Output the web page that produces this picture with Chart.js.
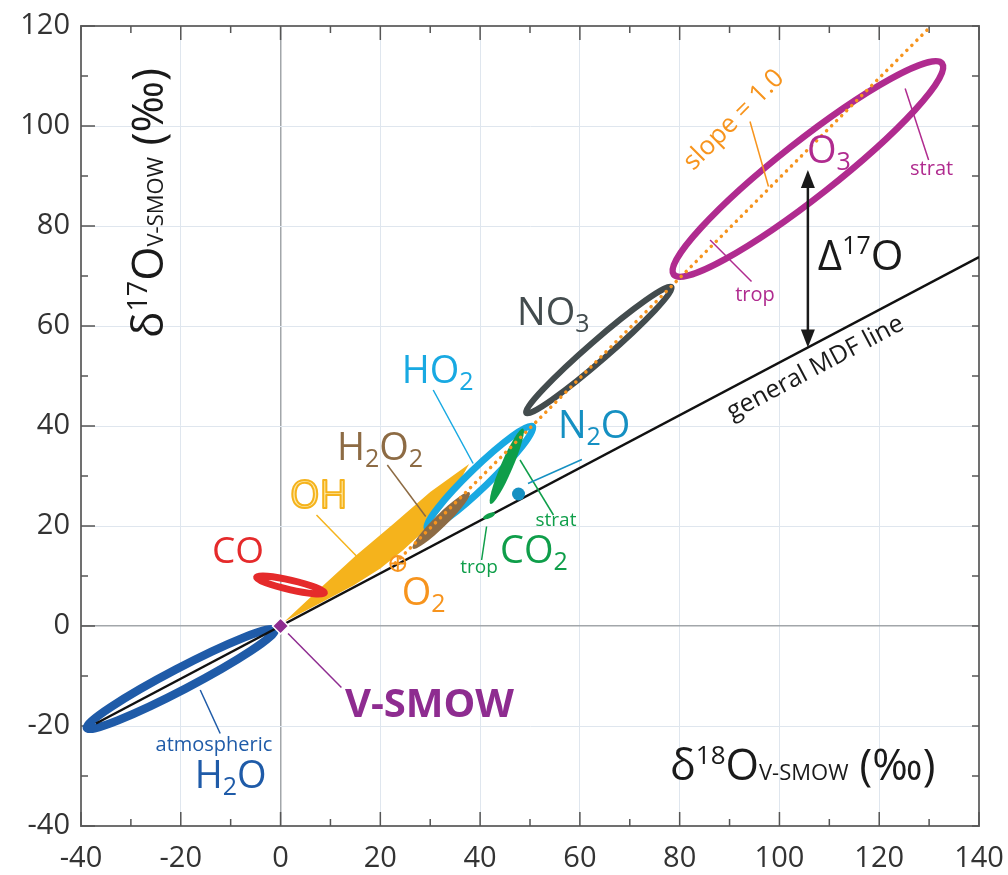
<!DOCTYPE html>
<html><head><meta charset="utf-8">
<script src="https://cdn.jsdelivr.net/npm/chart.js@4.4.0/dist/chart.umd.min.js"></script>
<style>html,body{margin:0;padding:0;background:#fff;}#wrap{width:1008px;height:875px;}</style>
</head><body><div id="wrap"><canvas id="c" width="1008" height="875"></canvas></div>
<script>
// ---------------- DATA (per mil, V-SMOW) ----------------
const xTickValues = [-40, -20, 0, 20, 40, 60, 80, 100, 120, 140];
const yTickValues = [-40, -20, 0, 20, 40, 60, 80, 100, 120];

// ellipses: [x1, y1, x2, y2, semiMinor]  (major-axis end points + half width)
const H2O_ellipse   = [-38.8, -20.4, -1.2, -0.8, 2.15];
const CO_ellipse    = [-4.8, 9.75, 8.8, 6.65, 0.95];
const HO2_ellipse   = [29.4, 19.6, 50.5, 39.9, 2.0];
const H2O2_ellipse  = [26.5, 15.5, 37.9, 26.7, 1.3];
const NO3_ellipse   = [49.25, 42.6, 78.35, 67.8, 1.95];
const O3_ellipse    = [78.8, 70.3, 132.6, 112.5, 5.6];
const CO2strat_ell  = [42.1, 24.4, 48.6, 39.5, 1.2];
const CO2trop_ell   = [40.6, 21.5, 43.0, 22.6, 0.5];

// OH field outline
const OH_x = [0.8, 8, 15, 22.6, 30, 37.8, 34.5, 31.3, 28, 24.6, 20, 14.6, 8, 3];
const OH_y = [0.9, 7.6, 14, 20.4, 26.8, 32.4, 26.5, 22.2, 18.3, 15.2, 11.5, 8.1, 4.6, 2];

// lines
const MDF_x = [-37, 140];
const MDF_y = [-19.5, 73.8];
const slope1_x = [23, 130.4];
const slope1_y = [12.6, 120];

// single points
const O2_point = [23.5, 12.5];
const N2O_point = [47.7, 26.4];
const VSMOW_point = [0, 0];
const D17O_x = 105.7;
const D17O_y = [55.7, 91.2];

// leader lines [x1, y1, x2, y2]
const leader_H2O   = [-16.1, -12.8, -12.1, -21.5];
const leader_VSMOW = [1.5, -1.5, 12.2, -12.3];
const leader_OH    = [7.2, 22.2, 15.3, 13.9];
const leader_H2O2  = [21.4, 32.2, 29.1, 21.9];
const leader_HO2   = [30.6, 47.2, 38.6, 32.5];
const leader_N2O   = [49.6, 28.5, 60.4, 33.3];
const leader_CO2s  = [48.0, 33.2, 54.7, 22.2];
const leader_CO2t  = [41.3, 19.9, 40.3, 13.2];
const leader_O3s   = [125.2, 107.5, 129.9, 93.2];
const leader_O3t   = [86.1, 77.2, 94.4, 68.9];
const leader_slope = [94.1, 100.9, 97.8, 87.9];

// ---------------- STYLE ----------------
const FONT = "'Open Sans','Noto Sans','DejaVu Sans',sans-serif";
const C = {
  blue: '#1f5ba8', red: '#e52a2b', yellow: '#f5b31c', brown: '#8d6b44', cyan: '#18a9e2',
  green: '#0f9e4a', teal: '#1590c2', gray: '#434c4e', magenta: '#b02b8f', orange: '#f7941d',
  purple: '#8e2c90', black: '#1a1a1a'
};

function P(chart, x, y) {
  return [chart.scales.x.getPixelForValue(x), chart.scales.y.getPixelForValue(y)];
}
function unitPx(chart) {
  return Math.abs(chart.scales.x.getPixelForValue(1) - chart.scales.x.getPixelForValue(0));
}
function ellipsePath(ctx, chart, e) {
  const [x1, y1, x2, y2, b] = e;
  const [ax, ay] = P(chart, x1, y1), [bx, by] = P(chart, x2, y2);
  const a = Math.hypot(bx - ax, by - ay) / 2;
  const ang = Math.atan2(by - ay, bx - ax);
  ctx.beginPath();
  ctx.ellipse((ax + bx) / 2, (ay + by) / 2, a, b * unitPx(chart), ang, 0, Math.PI * 2);
}
function strokeEll(ctx, chart, e, color, w) {
  ellipsePath(ctx, chart, e); ctx.strokeStyle = color; ctx.lineWidth = w; ctx.stroke();
}
function fillEll(ctx, chart, e, color) {
  ellipsePath(ctx, chart, e); ctx.fillStyle = color; ctx.fill();
}
// rich text: parts = [text, size, dy, weight]
function rich(ctx, parts, x, y, align, opts) {
  opts = opts || {};
  let w = 0;
  const ws = parts.map(p => { ctx.font = `${p[3] || 'normal'} ${p[1]}px ${FONT}`; const m = ctx.measureText(p[0]).width; w += m; return m; });
  let cx = align === 'center' ? x - w / 2 : (align === 'right' ? x - w : x);
  ctx.textAlign = 'left'; ctx.textBaseline = 'alphabetic';
  parts.forEach((p, i) => {
    ctx.font = `${p[3] || 'normal'} ${p[1]}px ${FONT}`;
    if (opts.outline) {
      ctx.fillStyle = opts.inner; ctx.fillText(p[0], cx, y + (p[2] || 0));
      ctx.strokeStyle = opts.color; ctx.lineWidth = 2; ctx.lineJoin = 'round';
      ctx.strokeText(p[0], cx, y + (p[2] || 0));
    } else {
      ctx.fillText(p[0], cx, y + (p[2] || 0));
    }
    cx += ws[i];
  });
}

const BIG = 38, SUB = 25, SD = 7;
const labels = [
  { at: [-13.75, 12.6], color: C.red, parts: [['CO', 37]] },
  { at: [1.9, 23.6], color: C.yellow, parts: [['OH', BIG]], outline: true, inner: '#fde8a8' },
  { at: [11.3, 33.2], color: C.brown, parts: [['H', BIG], ['2', SUB, SD], ['O', BIG], ['2', SUB, SD]] },
  { at: [24.3, 48.6], color: C.cyan, parts: [['HO', BIG], ['2', SUB, SD]] },
  { at: [47.4, 60.2], color: C.gray, parts: [['NO', BIG], ['3', SUB, SD]] },
  { at: [55.6, 37.6], color: C.teal, parts: [['N', BIG], ['2', SUB, SD], ['O', BIG]] },
  { at: [44.0, 12.6], color: C.green, parts: [['CO', BIG], ['2', SUB, SD]] },
  { at: [24.3, 4.2], color: C.orange, parts: [['O', BIG], ['2', SUB, SD]] },
  { at: [105.5, 92.6], color: C.magenta, parts: [['O', BIG], ['3', SUB, SD]] },
  { at: [107.7, 71.2], color: C.black, parts: [['Δ', 42], ['17', 25, -16], ['O', 42]] },
  { at: [12.9, -18.2], color: C.purple, parts: [['V-SMOW', 40, 0, 'bold']] },
  { at: [-17.2, -32.4], color: C.blue, parts: [['H', BIG], ['2', SUB, SD], ['O', BIG]] },
  { at: [78.06, -30.8], color: C.black, parts: [['δ', 43], ['18', 26, -16], ['O', 43], ['V-SMOW', 22], [' (‰)', 43]] },
  { at: [-23.57, 57.6], color: C.black, rot: -Math.PI / 2, parts: [['δ', 44], ['17', 27, -16], ['O', 44], ['V-SMOW', 22], [' (‰)', 44]] }
];
const smallLabels = [
  { at: [-13.35, -23.8], color: C.blue, text: 'atmospheric', size: 20 },
  { at: [130.5, 91.4], color: C.magenta, text: 'strat', size: 20 },
  { at: [95.1, 66.2], color: C.magenta, text: 'trop', size: 20 },
  { at: [55.2, 21], color: C.green, text: 'strat', size: 19 },
  { at: [39.8, 11.6], color: C.green, text: 'trop', size: 19 },
  { at: [90.9, 101.2], color: C.orange, text: 'slope = 1.0', size: 26, along: [slope1_x, slope1_y] },
  { at: [107.2, 51.6], color: C.black, text: 'general MDF line', size: 25, along: [MDF_x, MDF_y] }
];

const shapesPlugin = {
  id: 'shapes',
  beforeDatasetsDraw(chart) {
    const ctx = chart.ctx, a = chart.chartArea;
    ctx.save();
    // frame top/right
    ctx.strokeStyle = '#707070'; ctx.lineWidth = 2;
    ctx.beginPath(); ctx.moveTo(a.left, a.top); ctx.lineTo(a.right, a.top); ctx.lineTo(a.right, a.bottom); ctx.stroke();
    // inward ticks
    ctx.strokeStyle = '#555'; ctx.lineWidth = 1.5;
    const xs = chart.scales.x, ys = chart.scales.y;
    ctx.beginPath();
    for (let v = xs.min; v <= xs.max; v += 10) {
      const p = xs.getPixelForValue(v), L = (v % 20 === 0) ? 14 : 7;
      ctx.moveTo(p, a.bottom); ctx.lineTo(p, a.bottom - L);
      ctx.moveTo(p, a.top); ctx.lineTo(p, a.top + L);
    }
    for (let v = ys.min; v <= ys.max; v += 10) {
      const p = ys.getPixelForValue(v), L = (v % 20 === 0) ? 14 : 7;
      ctx.moveTo(a.left, p); ctx.lineTo(a.left + L, p);
      ctx.moveTo(a.right, p); ctx.lineTo(a.right - 7, p);
    }
    ctx.stroke();

    ctx.beginPath(); ctx.rect(a.left, a.top, a.right - a.left, a.bottom - a.top); ctx.clip();
    strokeEll(ctx, chart, H2O_ellipse, C.blue, 8.5);
    // OH field
    ctx.beginPath();
    OH_x.forEach((x, i) => { const [px, py] = P(chart, x, OH_y[i]); i ? ctx.lineTo(px, py) : ctx.moveTo(px, py); });
    ctx.closePath(); ctx.fillStyle = C.yellow; ctx.fill();
    strokeEll(ctx, chart, HO2_ellipse, C.cyan, 7);
    fillEll(ctx, chart, H2O2_ellipse, C.brown);
    strokeEll(ctx, chart, CO_ellipse, C.red, 7);
    strokeEll(ctx, chart, NO3_ellipse, C.gray, 6);
    strokeEll(ctx, chart, O3_ellipse, C.magenta, 6.5);
    fillEll(ctx, chart, CO2strat_ell, C.green);
    ctx.restore();
  },
  afterDatasetsDraw(chart) {
    const ctx = chart.ctx;
    ctx.save();
    fillEll(ctx, chart, CO2trop_ell, C.green);
    // O2 marker
    let [x, y] = P(chart, O2_point[0], O2_point[1]);
    ctx.strokeStyle = C.orange; ctx.lineWidth = 2;
    ctx.beginPath(); ctx.arc(x, y, 7.5, 0, Math.PI * 2); ctx.stroke();
    ctx.beginPath(); ctx.moveTo(x - 7.5, y); ctx.lineTo(x + 7.5, y); ctx.moveTo(x, y - 7.5); ctx.lineTo(x, y + 7.5); ctx.stroke();
    // N2O dot
    [x, y] = P(chart, N2O_point[0], N2O_point[1]);
    ctx.fillStyle = C.teal; ctx.beginPath(); ctx.arc(x, y, 6.5, 0, Math.PI * 2); ctx.fill();
    // V-SMOW diamond
    [x, y] = P(chart, VSMOW_point[0], VSMOW_point[1]);
    ctx.beginPath(); ctx.moveTo(x, y - 8); ctx.lineTo(x + 8, y); ctx.lineTo(x, y + 8); ctx.lineTo(x - 8, y); ctx.closePath();
    ctx.fillStyle = C.purple; ctx.fill(); ctx.strokeStyle = '#fff'; ctx.lineWidth = 1.5; ctx.stroke();
    // Delta17O arrow
    const [ax, ay1] = P(chart, D17O_x, D17O_y[0]);
    const [, ay2] = P(chart, D17O_x, D17O_y[1]);
    ctx.strokeStyle = C.black; ctx.fillStyle = C.black; ctx.lineWidth = 2.5;
    ctx.beginPath(); ctx.moveTo(ax, ay1 - 14); ctx.lineTo(ax, ay2 + 14); ctx.stroke();
    ctx.beginPath(); ctx.moveTo(ax, ay2); ctx.lineTo(ax - 7, ay2 + 18); ctx.lineTo(ax + 7, ay2 + 18); ctx.closePath(); ctx.fill();
    ctx.beginPath(); ctx.moveTo(ax, ay1); ctx.lineTo(ax - 7, ay1 - 18); ctx.lineTo(ax + 7, ay1 - 18); ctx.closePath(); ctx.fill();
    // labels
    labels.forEach(l => {
      const [lx, ly] = P(chart, l.at[0], l.at[1]);
      ctx.save();
      ctx.fillStyle = l.color;
      ctx.translate(lx, ly);
      if (l.rot) ctx.rotate(l.rot);
      rich(ctx, l.parts, 0, 0, 'left', l.outline ? { outline: true, color: l.color, inner: l.inner } : null);
      ctx.restore();
    });
    smallLabels.forEach(l => {
      const [lx, ly] = P(chart, l.at[0], l.at[1]);
      ctx.save();
      ctx.translate(lx, ly);
      if (l.along) {
        const [p1x, p1y] = P(chart, l.along[0][0], l.along[1][0]);
        const [p2x, p2y] = P(chart, l.along[0][1], l.along[1][1]);
        ctx.rotate(Math.atan2(p2y - p1y, p2x - p1x));
      }
      ctx.fillStyle = l.color; ctx.font = `${l.size}px ${FONT}`;
      ctx.textAlign = 'center'; ctx.textBaseline = 'middle';
      ctx.fillText(l.text, 0, 0);
      ctx.restore();
    });
    ctx.restore();
  }
};

function seg(arr) { return [{ x: arr[0], y: arr[1] }, { x: arr[2], y: arr[3] }]; }
function lineDs(data, color, width, extra) {
  return Object.assign({ data, borderColor: color, borderWidth: width, showLine: true, pointRadius: 0, fill: false, tension: 0 }, extra || {});
}
const datasets = [
  lineDs(seg(leader_H2O), C.blue, 1.5),
  lineDs(seg(leader_VSMOW), C.purple, 1.5),
  lineDs(seg(leader_OH), C.yellow, 1.5),
  lineDs(seg(leader_H2O2), C.brown, 1.5),
  lineDs(seg(leader_HO2), C.cyan, 1.5),
  lineDs(seg(leader_N2O), C.teal, 1.5),
  lineDs(seg(leader_CO2s), C.green, 1.5),
  lineDs(seg(leader_CO2t), C.green, 1.5),
  lineDs(seg(leader_O3s), C.magenta, 1.5),
  lineDs(seg(leader_O3t), C.magenta, 1.5),
  lineDs(seg(leader_slope), C.orange, 1.5),
  lineDs(slope1_x.map((x, i) => ({ x, y: slope1_y[i] })), C.orange, 3.5, { borderDash: [0.1, 7], borderCapStyle: 'round' }),
  lineDs(MDF_x.map((x, i) => ({ x, y: MDF_y[i] })), '#111', 2.5)
];

const gridColor = c => (c.tick && c.tick.value === 0) ? '#a2a6aa' : '#dfe6ee';
const gridWidth = c => (c.tick && c.tick.value === 0) ? 1.5 : 1;

new Chart(document.getElementById('c'), {
  type: 'scatter',
  data: { datasets },
  options: {
    responsive: false, animation: false, devicePixelRatio: 1,
    layout: { padding: { top: 26, right: 29, left: 0, bottom: 0 } },
    plugins: { legend: { display: false }, tooltip: { enabled: false } },
    events: [],
    scales: {
      x: {
        type: 'linear', min: -40, max: 140,
        afterBuildTicks: s => { s.ticks = xTickValues.map(v => ({ value: v })); },
        afterFit: s => { s.height = 49; s.paddingLeft = 0; s.paddingRight = 0; },
        ticks: { font: { family: FONT, size: 29 }, color: '#333', padding: 15, callback: v => String(v), maxRotation: 0, autoSkip: false },
        grid: { color: gridColor, lineWidth: gridWidth, drawTicks: false },
        border: { display: true, color: '#707070', width: 2 }
      },
      y: {
        type: 'linear', min: -40, max: 120,
        afterBuildTicks: s => { s.ticks = yTickValues.map(v => ({ value: v })); },
        afterFit: s => { s.width = 81; s.paddingTop = 0; s.paddingBottom = 0; },
        ticks: { font: { family: FONT, size: 29 }, color: '#333', padding: 11, callback: v => String(v), autoSkip: false },
        grid: { color: gridColor, lineWidth: gridWidth, drawTicks: false },
        border: { display: true, color: '#707070', width: 2 }
      }
    }
  },
  plugins: [shapesPlugin]
});
</script></body></html>
